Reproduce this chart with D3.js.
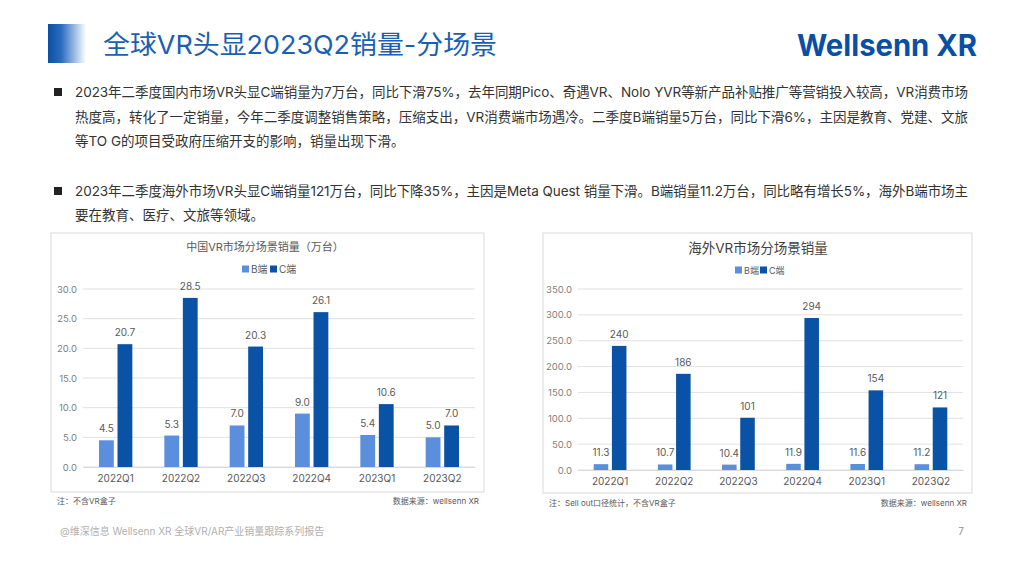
<!DOCTYPE html>
<html>
<head>
<meta charset="utf-8">
<script src="https://cdn.jsdelivr.net/npm/d3@7"></script>
<style>
  body { margin: 0; background: #fff; }
  text { font-family: "Inter", "Noto Sans CJK SC", sans-serif; }
</style>
</head>
<body>
<script>
// data
var quarters = ["2022Q1", "2022Q2", "2022Q3", "2022Q4", "2023Q1", "2023Q2"];
var seriesNames = ["B端", "C端"];
var chinaB = [4.5, 5.3, 7.0, 9.0, 5.4, 5.0];
var chinaC = [20.7, 28.5, 20.3, 26.1, 10.6, 7.0];
var overseasB = [11.3, 10.7, 10.4, 11.9, 11.6, 11.2];
var overseasC = [240, 186, 101, 294, 154, 121];
var chinaTicks = [0, 5, 10, 15, 20, 25, 30];
var overseasTicks = [0, 50, 100, 150, 200, 250, 300, 350];

var bullets = [
  ["2023年二季度国内市场VR头显C端销量为7万台，同比下滑75%，去年同期Pico、奇遇VR、Nolo YVR等新产品补贴推广等营销投入较高，VR消费市场",
   "热度高，转化了一定销量，今年二季度调整销售策略，压缩支出，VR消费端市场遇冷。二季度B端销量5万台，同比下滑6%，主因是教育、党建、文旅",
   "等TO G的项目受政府压缩开支的影响，销量出现下滑。"],
  ["2023年二季度海外市场VR头显C端销量121万台，同比下降35%，主因是Meta Quest 销量下滑。B端销量11.2万台，同比略有增长5%，海外B端市场主",
   "要在教育、医疗、文旅等领域。"]
];

var colorB = "#5b8fde";
var colorC = "#0a52a6";

var svg = d3.select("body").append("svg")
  .attr("width", 1024)
  .attr("height", 563);

// header
var grad = svg.append("defs").append("linearGradient")
  .attr("id", "hdr").attr("x1", "0").attr("x2", "1").attr("y1", "0").attr("y2", "0");
grad.append("stop").attr("offset", "0").attr("stop-color", "#0a4fa5");
grad.append("stop").attr("offset", "0.35").attr("stop-color", "#2a6cc0");
grad.append("stop").attr("offset", "1").attr("stop-color", "#ffffff");

svg.append("rect")
  .attr("x", 48).attr("y", 24).attr("width", 38).attr("height", 39)
  .attr("fill", "url(#hdr)");

svg.append("text")
  .attr("x", 103).attr("y", 54)
  .attr("font-size", 26)
  .attr("fill", "#1a5fb4")
  .attr("textLength", 394).attr("lengthAdjust", "spacingAndGlyphs")
  .text("全球VR头显2023Q2销量-分场景");

svg.append("text")
  .attr("x", 977).attr("y", 56)
  .attr("text-anchor", "end")
  .attr("font-size", 30)
  .attr("font-weight", "bold")
  .attr("font-family", "Roboto, sans-serif")
  .attr("fill", "#0a4fa5")
  .attr("textLength", 180).attr("lengthAdjust", "spacingAndGlyphs")
  .text("Wellsenn XR");

// bullet text
var lineY = [[92, 117, 141], [191, 215]];
bullets.forEach(function(para, i) {
  svg.append("rect")
    .attr("x", 54).attr("y", lineY[i][0] - 4)
    .attr("width", 8).attr("height", 8)
    .attr("fill", "#222");
  para.forEach(function(line, j) {
    var t = svg.append("text")
      .attr("x", 75).attr("y", lineY[i][j] + 5)
      .attr("font-size", 13.5)
      .attr("fill", "#333")
      .text(line);
    if (j < para.length - 1) {
      t.attr("textLength", 893).attr("lengthAdjust", "spacing");
    }
  });
});

function drawChart(opt) {
  var g = svg.append("g");

  g.append("rect")
    .attr("x", opt.box[0]).attr("y", opt.box[1])
    .attr("width", opt.box[2] - opt.box[0]).attr("height", opt.box[3] - opt.box[1])
    .attr("fill", "#fff").attr("stroke", "#d9d9d9");

  g.append("text")
    .attr("x", opt.titleX).attr("y", opt.titleY)
    .attr("text-anchor", "middle")
    .attr("font-size", opt.titleSize)
    .attr("fill", opt.titleColor)
    .text(opt.title);

  var y = d3.scaleLinear().domain(opt.yDomain).range([opt.bottom, opt.top]);
  var x0 = d3.scaleBand().domain(quarters).range([opt.left, opt.right])
    .paddingInner(0.49).paddingOuter(0.245);
  var x1 = d3.scaleBand().domain(seriesNames).range([0, x0.bandwidth()])
    .paddingInner(0.2);

  // gridlines
  g.append("g").selectAll("line")
    .data(opt.ticks)
    .enter().append("line")
    .attr("x1", opt.left).attr("x2", opt.right)
    .attr("y1", d => y(d)).attr("y2", d => y(d))
    .attr("stroke", "#d9d9d9").attr("stroke-width", 0.8);

  // y axis
  var yAxis = g.append("g")
    .attr("transform", `translate(${opt.tickRight}, 0)`)
    .call(d3.axisLeft(y).tickValues(opt.ticks).tickFormat(d3.format(".1f")).tickSize(0).tickPadding(0));
  yAxis.select(".domain").remove();
  yAxis.selectAll("text")
    .attr("font-size", 9.5).attr("fill", "#7f7f7f")
    .style("font-family", "Inter, 'Noto Sans CJK SC', sans-serif");

  // x axis
  var xAxis = g.append("g")
    .attr("transform", `translate(0, ${opt.bottom})`)
    .call(d3.axisBottom(x0).tickSize(0).tickPadding(8));
  xAxis.select(".domain").attr("stroke", "#d9d9d9");
  xAxis.selectAll("text")
    .attr("font-size", 10).attr("fill", "#595959")
    .style("font-family", "Inter, 'Noto Sans CJK SC', sans-serif");

  var rows = quarters.map(function(q, i) {
    return { q: q, vals: [{ s: "B端", v: opt.b[i] }, { s: "C端", v: opt.c[i] }] };
  });

  var groups = g.selectAll(".grp")
    .data(rows)
    .enter().append("g")
    .attr("transform", d => `translate(${x0(d.q)}, 0)`);

  groups.selectAll("rect")
    .data(d => d.vals)
    .enter().append("rect")
    .attr("x", d => x1(d.s))
    .attr("y", d => y(d.v))
    .attr("width", x1.bandwidth())
    .attr("height", d => opt.bottom - y(d.v))
    .attr("fill", d => d.s === "B端" ? colorB : colorC);

  groups.selectAll(".lbl")
    .data(d => d.vals)
    .enter().append("text")
    .attr("x", d => x1(d.s) + x1.bandwidth() / 2)
    .attr("y", d => y(d.v) - 8)
    .attr("text-anchor", "middle")
    .attr("font-size", 10)
    .attr("fill", "#595959")
    .text(d => opt.labelFmt(d.v, d.s));

  // legend
  var lg = g.append("g").attr("transform", `translate(${opt.legendX}, ${opt.legendY})`);
  seriesNames.forEach(function(s, i) {
    lg.append("rect")
      .attr("x", i * opt.legendStep).attr("y", -3.5)
      .attr("width", 7).attr("height", 7)
      .attr("fill", i === 0 ? colorB : colorC);
    lg.append("text")
      .attr("x", i * opt.legendStep + 9).attr("y", 3.5)
      .attr("font-size", opt.legendSize)
      .attr("fill", "#595959")
      .text(s);
  });

  // notes
  g.append("text")
    .attr("x", opt.box[0] + 6).attr("y", opt.noteY)
    .attr("font-size", 8).attr("fill", "#595959")
    .text(opt.note);
  g.append("text")
    .attr("x", opt.box[2] - 5).attr("y", opt.noteY)
    .attr("text-anchor", "end")
    .attr("font-size", 8).attr("fill", "#595959")
    .text("数据来源：wellsenn XR");
}

drawChart({
  box: [51, 233, 484, 492],
  title: "中国VR市场分场景销量（万台）",
  titleX: 265, titleY: 251, titleSize: 11, titleColor: "#595959",
  left: 83, right: 475, top: 289, bottom: 467, tickRight: 77,
  yDomain: [0, 30], ticks: chinaTicks,
  b: chinaB, c: chinaC,
  labelFmt: function(v) { return d3.format(".1f")(v); },
  legendX: 242, legendY: 269, legendStep: 28, legendSize: 10,
  note: "注：不含VR盒子", noteY: 504
});

drawChart({
  box: [543, 233, 972, 493],
  title: "海外VR市场分场景销量",
  titleX: 758, titleY: 253, titleSize: 13.5, titleColor: "#404040",
  left: 578, right: 963, top: 289, bottom: 470, tickRight: 572,
  yDomain: [0, 350], ticks: overseasTicks,
  b: overseasB, c: overseasC,
  labelFmt: function(v, s) { return s === "B端" ? d3.format(".1f")(v) : d3.format("d")(v); },
  legendX: 735, legendY: 270, legendStep: 25, legendSize: 9,
  note: "注：Sell out口径统计，不含VR盒子", noteY: 506
});

// footer
svg.append("text")
  .attr("x", 60).attr("y", 535)
  .attr("font-size", 10).attr("fill", "#b0b0b0")
  .text("@维深信息 Wellsenn XR 全球VR/AR产业销量跟踪系列报告");
svg.append("text")
  .attr("x", 964).attr("y", 535)
  .attr("text-anchor", "end")
  .attr("font-size", 10).attr("fill", "#909090")
  .text("7");
</script>
</body>
</html>
